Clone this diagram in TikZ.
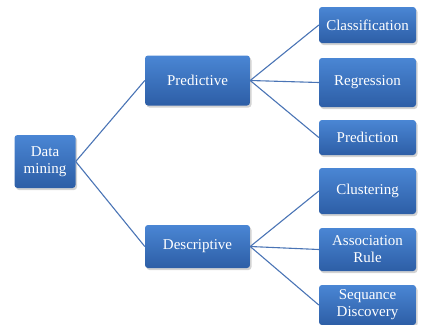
\documentclass[tikz,border=0pt]{standalone}
\usepackage{fontspec}
\setmainfont{Liberation Serif}
\usetikzlibrary{shadows}
\definecolor{boxtop}{HTML}{4A86D4}
\definecolor{boxbot}{HTML}{2D5EA6}
\definecolor{linkblue}{HTML}{4A74B5}
\tikzset {
  % box with blue gradient and shadow
  tree node/.style = {
    rectangle,
    rounded corners = 3pt,
    top color = boxtop,
    bottom color = boxbot,
    draw = none,
    text = white,
    align = center,
    inner sep = 0pt,
    font = \fontsize{15}{17}\selectfont,
    drop shadow = {opacity = 0.35, shadow xshift = 1.5pt, shadow yshift = -2pt}
  },
  % leaf symbol
  leaf/.style = {
    tree node,
    minimum width = 97pt
  },
  link/.style = {
    draw = linkblue,
    line width = 1.1pt
  }
}
\begin{document}
\begin{tikzpicture}[x=1pt, y=-1pt]
    \useasboundingbox (0,0) rectangle (422,324);

    \node[tree node, minimum width = 61pt, minimum height = 53pt] (root) at (45,161.5) {Data\\mining};
    \node[tree node, minimum width = 105pt, minimum height = 50pt] (pred) at (197.5,80.5) {Predictive};
    \node[tree node, minimum width = 105pt, minimum height = 43pt] (desc) at (197.5,246.5) {Descriptive};

    \node[leaf, minimum height = 36pt] (class) at (367.5,25) {Classification};
    \node[leaf, minimum height = 49pt] (regr) at (367.5,82.5) {Regression};
    \node[leaf, minimum height = 35pt] (predn) at (367.5,137.5) {Prediction};
    \node[leaf, minimum height = 46pt] (clust) at (367.5,191) {Clustering};
    \node[leaf, minimum height = 43pt] (assoc) at (367.5,249.5) {Association\\Rule};
    \node[leaf, minimum height = 40pt] (seq) at (367.5,305) {Sequance\\Discovery};

    \draw[link] (root.east) -- (pred.west);
    \draw[link] (root.east) -- (desc.west);

    \foreach \leafname in {class, regr, predn}
      \draw[link] (pred.east) -- (\leafname.west);
    \foreach \leafname in {clust, assoc, seq}
      \draw[link] (desc.east) -- (\leafname.west);

  \end{tikzpicture}
\end{document}
